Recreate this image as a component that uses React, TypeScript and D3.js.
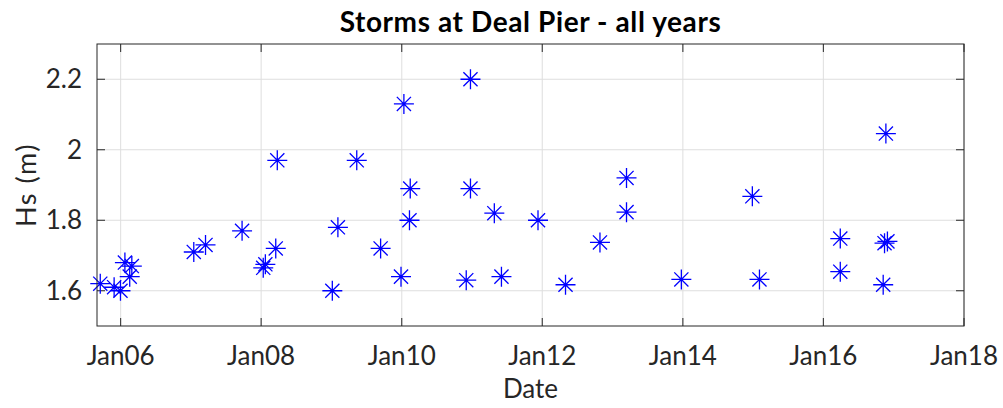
import { useEffect, useRef } from 'react';
import * as d3 from 'd3';

// storm dates and significant wave heights (m)
const stormDates = [
  '2005-09-17', '2005-11-28', '2005-12-31', '2006-01-23', '2006-02-28', '2006-02-17',
  '2007-01-16', '2007-03-18', '2007-09-24', '2008-01-12', '2008-01-23', '2008-03-17',
  '2008-03-25', '2009-01-05', '2009-02-03', '2009-05-12', '2009-09-13', '2010-01-12',
  '2009-12-28', '2010-02-14', '2010-02-10', '2010-12-24', '2010-12-24', '2010-12-02',
  '2011-04-27', '2011-06-03', '2011-12-10', '2012-05-01', '2012-10-27', '2013-03-14',
  '2013-03-14', '2013-12-24', '2014-12-28', '2015-02-03', '2016-03-29', '2016-03-29',
  '2016-11-21', '2016-11-14', '2016-11-29', '2016-11-07',
];
const stormHs = [
  1.62, 1.61, 1.6, 1.68, 1.67, 1.64,
  1.71, 1.73, 1.77, 1.665, 1.675, 1.72,
  1.97, 1.6, 1.78, 1.97, 1.72, 2.13,
  1.64, 1.89, 1.8, 2.2, 1.89, 1.63,
  1.82, 1.64, 1.8, 1.617, 1.737, 1.92,
  1.823, 1.632, 1.868, 1.632, 1.748, 1.654,
  2.046, 1.735, 1.74, 1.617,
];
const xTickYears = [2006, 2008, 2010, 2012, 2014, 2016, 2018];
const yTicks = [1.6, 1.8, 2.0, 2.2];

const W = 1003;
const H = 408;
const FONT = 'Lato, "Open Sans", sans-serif';
const INK = '#262626';

export default function App() {
  const svgRef = useRef<SVGSVGElement>(null);

  useEffect(() => {
    if (!svgRef.current) return;
    const svg = d3.select(svgRef.current);
    svg.selectAll('*').remove();

    const left = 97, right = 964, top = 44, bottom = 326;
    const parse = d3.timeParse('%Y-%m-%d');
    const data = stormDates.map((d, i) => ({ date: parse(d) as Date, hs: stormHs[i] }));

    const x = d3.scaleTime()
      .domain([new Date(2005, 7, 31), new Date(2018, 0, 1)])
      .range([left, right]);
    const y = d3.scaleLinear().domain([1.5, 2.3]).range([bottom, top]);
    const xTicks = xTickYears.map(yr => new Date(yr, 0, 1));
    const fmt = d3.timeFormat('%b%y');

    svg.append('rect')
      .attr('x', left).attr('y', top)
      .attr('width', right - left).attr('height', bottom - top)
      .attr('fill', '#fff');

    // grid
    const grid = svg.append('g').attr('stroke', '#dedede').attr('stroke-width', 1);
    grid.selectAll('.gx').data(xTicks).enter().append('line')
      .attr('x1', d => x(d)).attr('x2', d => x(d))
      .attr('y1', top).attr('y2', bottom);
    grid.selectAll('.gy').data(yTicks).enter().append('line')
      .attr('x1', left).attr('x2', right)
      .attr('y1', d => y(d)).attr('y2', d => y(d));

    // ticks on all four sides, pointing in
    const tl = 8;
    const ticks = svg.append('g').attr('stroke', INK).attr('stroke-width', 1);
    xTicks.forEach(d => {
      ticks.append('line').attr('x1', x(d)).attr('x2', x(d)).attr('y1', bottom).attr('y2', bottom - tl);
      ticks.append('line').attr('x1', x(d)).attr('x2', x(d)).attr('y1', top).attr('y2', top + tl);
    });
    yTicks.forEach(d => {
      ticks.append('line').attr('x1', left).attr('x2', left + tl).attr('y1', y(d)).attr('y2', y(d));
      ticks.append('line').attr('x1', right).attr('x2', right - tl).attr('y1', y(d)).attr('y2', y(d));
    });

    // asterisk markers
    const r = 10;
    const spokes = d3.range(4).map(k => (k * Math.PI) / 4);
    const marks = svg.append('g').attr('stroke', '#0000ff').attr('stroke-width', 1.3).attr('fill', 'none');
    data.forEach(d => {
      const cx = x(d.date), cy = y(d.hs);
      const p = d3.path();
      spokes.forEach(a => {
        p.moveTo(cx - r * Math.cos(a), cy - r * Math.sin(a));
        p.lineTo(cx + r * Math.cos(a), cy + r * Math.sin(a));
      });
      marks.append('path').attr('d', p.toString());
    });

    // box
    svg.append('rect')
      .attr('x', left).attr('y', top)
      .attr('width', right - left).attr('height', bottom - top)
      .attr('fill', 'none').attr('stroke', INK).attr('stroke-width', 1);

    // tick labels
    svg.append('g').selectAll('text').data(xTicks).enter().append('text')
      .attr('x', d => x(d)).attr('y', 365)
      .attr('text-anchor', 'middle')
      .attr('font-family', FONT).attr('font-size', 26).attr('fill', INK)
      .text(d => fmt(d));
    svg.append('g').selectAll('text').data(yTicks).enter().append('text')
      .attr('x', 82).attr('y', d => y(d) + 9)
      .attr('text-anchor', 'end')
      .attr('font-family', FONT).attr('font-size', 26).attr('fill', INK)
      .text(d => d3.format('~g')(d));

    // labels and title
    svg.append('text')
      .attr('x', (left + right) / 2).attr('y', 398)
      .attr('text-anchor', 'middle')
      .attr('font-family', FONT).attr('font-size', 26).attr('fill', INK)
      .text('Date');
    svg.append('text')
      .attr('transform', `translate(36,${(top + bottom) / 2}) rotate(-90)`)
      .attr('text-anchor', 'middle')
      .attr('font-family', FONT).attr('font-size', 27).attr('letter-spacing', 1.5).attr('fill', INK)
      .text('Hs (m)');
    svg.append('text')
      .attr('x', (left + right) / 2).attr('y', 32)
      .attr('text-anchor', 'middle')
      .attr('font-family', FONT).attr('font-size', 28).attr('font-weight', 'bold')
      .attr('letter-spacing', 0.6).attr('fill', '#000')
      .text('Storms at Deal Pier - all years');
  }, []);

  return (
    <svg
      ref={svgRef}
      width={W}
      height={H}
      style={{ position: 'absolute', left: 0, top: 0, background: '#fff' }}
    />
  );
}
